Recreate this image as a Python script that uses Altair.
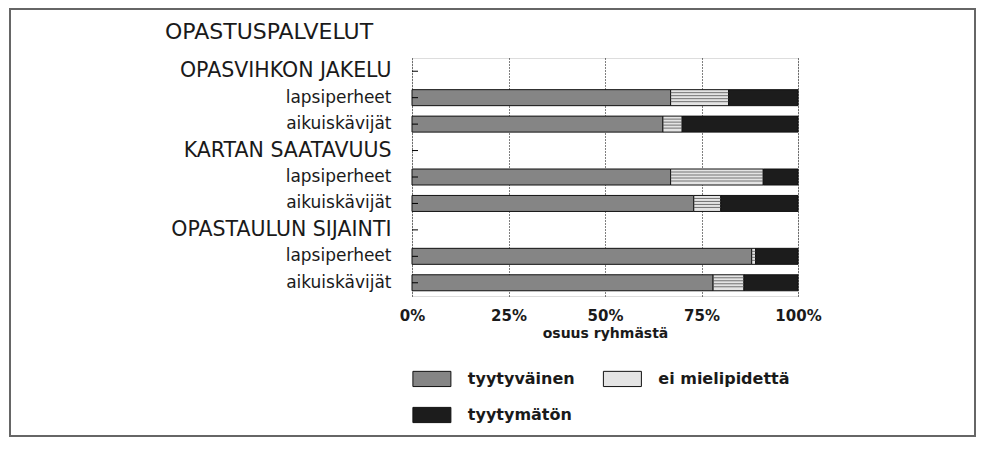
import json
import altair as alt
import pandas as pd

# ---- data ----
row_labels = ["OPASVIHKON JAKELU", "lapsiperheet", "aikuiskävijät",
              "KARTAN SAATAVUUS", "lapsiperheet", "aikuiskävijät",
              "OPASTAULUN SIJAINTI", "lapsiperheet", "aikuiskävijät"]
header_rows = [0, 3, 6]
bar_rows = [1, 2, 4, 5, 7, 8]
satisfied = [67, 65, 67, 73, 88, 78]
neutral = [15, 5, 24, 7, 1, 8]
unsatisfied = [18, 30, 9, 20, 11, 14]
categories = ["tyytyväinen", "ei mielipidettä", "tyytymätön"]
x_ticks = [0, 25, 50, 75, 100]

colors = ["#858585", "#e4e4e4", "#1c1c1c"]
FONT = "DejaVu Sans"
TXT = "#1a1a1a"

recs = []
for i, r in enumerate(bar_rows):
    start = 0
    for c, v in zip(categories, [satisfied[i], neutral[i], unsatisfied[i]]):
        recs.append({"row": r, "cat": c, "x0": start, "x1": start + v, "o": categories.index(c)})
        start += v
df = pd.DataFrame(recs)
rows_df = pd.DataFrame({"row": list(range(len(row_labels)))})

label_expr = json.dumps(row_labels, ensure_ascii=False) + "[datum.value]"
header_test = "indexof(" + json.dumps(header_rows) + ", datum.value) >= 0"

y_enc = alt.Y("row:O", scale=alt.Scale(domain=list(range(len(row_labels)))),
              axis=alt.Axis(title=None, labelExpr=label_expr, ticks=False, domain=False,
                            labelPadding=21, labelFont=FONT, labelColor=TXT, labelLimit=400,
                            labelFontSize={"condition": {"test": header_test, "value": 20.5}, "value": 17}))
x_scale = alt.Scale(domain=[0, 100], nice=False)
x_axis = alt.Axis(values=x_ticks, labelExpr="datum.value + '%'", grid=True, gridDash=[1, 2],
                  gridColor="#000", gridOpacity=1, ticks=False, domain=False, labelFlush=False,
                  labelFont=FONT, labelFontWeight="bold", labelFontSize=15, labelPadding=12,
                  labelColor=TXT, title="osuus ryhmästä", titleFont=FONT, titleFontSize=14,
                  titleFontWeight="bold", titlePadding=3, titleColor=TXT)

bars = alt.Chart(df).mark_bar(size=16, stroke="#111", strokeWidth=1).encode(
    x=alt.X("x0:Q", scale=x_scale, axis=x_axis),
    x2="x1:Q",
    y=y_enc,
    color=alt.Color("cat:N", scale=alt.Scale(domain=categories, range=colors),
                    legend=alt.Legend(title=None, orient="none", legendX=11.4, legendY=312,
                                      columns=2, direction="horizontal",
                                      symbolType="M-2.5,-1H2.5V1H-2.5Z", symbolSize=231,
                                      symbolStrokeColor="#111", symbolStrokeWidth=1,
                                      symbolOpacity=1, labelFont=FONT, labelFontSize=16,
                                      labelFontWeight="bold", labelColor=TXT, labelOffset=27.4,
                                      columnPadding=25.5, rowPadding=15.5, padding=0)),
    order="o:Q",
)

neutral_df = df[df["cat"] == categories[1]]
line_layers = [
    alt.Chart(neutral_df).mark_rule(color="#555", strokeWidth=0.8, yOffset=off).encode(
        x="x0:Q", x2="x1:Q", y="row:O")
    for off in [-5, -2, 1, 4]
]

ticks = alt.Chart(rows_df).mark_rule(color="#000", strokeWidth=1).encode(
    y="row:O", x=alt.value(0), x2=alt.value(6))

frame = alt.Chart(alt.Data(values=[{}])).mark_rect(filled=False, stroke="#666", strokeWidth=2).encode(
    x=alt.value(-402), x2=alt.value(563), y=alt.value(-49), y2=alt.value(378))

chart = alt.layer(frame, bars, *line_layers, ticks).properties(
    width=386, height=238,
    autosize=alt.AutoSizeParams(type="none"),
    padding={"left": 404, "top": 50, "right": 179, "bottom": 142},
    title=alt.Title("OPASTUSPALVELUT", anchor="start", frame="group", fontSize=22, font=FONT,
                    fontWeight="normal", color=TXT, dx=-247, dy=73, offset=20, baseline="alphabetic"),
).configure_view(stroke="#000", strokeWidth=1.5).configure(background="white")

chart.save("out.html", embed_options={"renderer": "svg", "actions": False})
